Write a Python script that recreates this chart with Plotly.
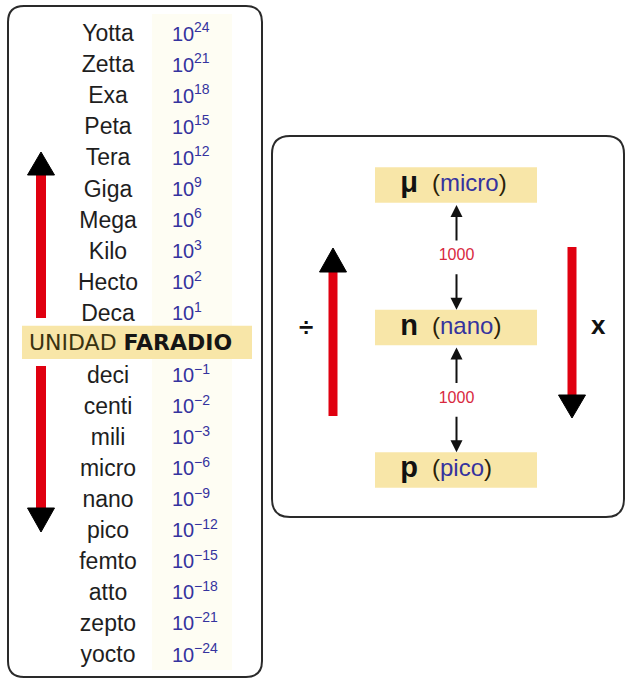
import plotly.graph_objects as go

# ---------------- data ----------------
upper_prefixes = ["Yotta", "Zetta", "Exa", "Peta", "Tera", "Giga", "Mega", "Kilo", "Hecto", "Deca"]
upper_exponents = [24, 21, 18, 15, 12, 9, 6, 3, 2, 1]
unit_word = "UNIDAD"
unit_name = "FARADIO"
lower_prefixes = ["deci", "centi", "mili", "micro", "nano", "pico", "femto", "atto", "zepto", "yocto"]
lower_exponents = [-1, -2, -3, -6, -9, -12, -15, -18, -21, -24]
power_base = "10"

scale_symbols = ["μ", "n", "p"]
scale_names = ["micro", "nano", "pico"]
scale_factors = ["1000", "1000"]

# ---------------- styles ----------------
FONT = "Liberation Sans, Arial, Helvetica, sans-serif"
BLUE = "#35339e"
RED = "#e00010"
YEL = "#f8e6a8"
BORDER = "#2a2a2a"

W, H = 627, 680
ROW0_PX, ROW_PX = 35.5, 31.05          # left table row geometry (pixels)
R0_PX, R_PX = 185.0, 142.5             # right diagram row geometry (pixels)
SUP_SHIFT = 0.22                        # superscript raise, in rows

n_up = len(upper_prefixes)
unit_row = n_up
up_rows = list(range(n_up))
low_rows = [unit_row + 1 + i for i in range(len(lower_prefixes))]
all_rows = up_rows + low_rows
all_names = upper_prefixes + lower_prefixes
all_exps = upper_exponents + lower_exponents

fig = go.Figure()

# left table: prefix names
fig.add_trace(go.Scatter(
    x=[108] * len(all_rows), y=all_rows, text=all_names,
    mode="text", textposition="middle center",
    textfont=dict(family=FONT, size=23, color="#1e1e1e"),
    xaxis="x", yaxis="y2", hoverinfo="skip"))
# left table: base 10
fig.add_trace(go.Scatter(
    x=[172] * len(all_rows), y=all_rows, text=[power_base] * len(all_rows),
    mode="text", textposition="middle right",
    textfont=dict(family=FONT, size=20, color=BLUE),
    xaxis="x", yaxis="y2", hoverinfo="skip"))
# left table: exponents (superscript position)
fig.add_trace(go.Scatter(
    x=[194] * len(all_rows), y=[r - SUP_SHIFT for r in all_rows],
    text=[str(e).replace("-", "\u2212") for e in all_exps],
    mode="text", textposition="middle right",
    textfont=dict(family=FONT, size=14, color=BLUE),
    xaxis="x", yaxis="y2", hoverinfo="skip"))

# right diagram rows
rr = list(range(len(scale_symbols)))
fig.add_trace(go.Scatter(
    x=[409] * len(rr), y=rr, text=["<b>" + s + "</b>" for s in scale_symbols],
    mode="text", textposition="middle center",
    textfont=dict(family=FONT, size=29, color="#111111"),
    xaxis="x", yaxis="y3", hoverinfo="skip"))
fig.add_trace(go.Scatter(
    x=[432] * len(rr), y=rr,
    text=["(<span style='color:%s'>%s</span>)" % (BLUE, nm) for nm in scale_names],
    mode="text", textposition="middle right",
    textfont=dict(family=FONT, size=24, color="#2a2208"),
    xaxis="x", yaxis="y3", hoverinfo="skip"))
fig.add_trace(go.Scatter(
    x=[456.5] * len(scale_factors), y=[i + 0.5 for i in range(len(scale_factors))],
    text=scale_factors, mode="text", textposition="middle center",
    textfont=dict(family=FONT, size=16, color="#d8283e"),
    xaxis="x", yaxis="y3", hoverinfo="skip"))

shapes = []


def rounded(x0, y0, x1, y1, r):
    return (f"M {x0+r},{y0} L {x1-r},{y0} Q {x1},{y0} {x1},{y0+r} L {x1},{y1-r} "
            f"Q {x1},{y1} {x1-r},{y1} L {x0+r},{y1} Q {x0},{y1} {x0},{y1-r} "
            f"L {x0},{y0+r} Q {x0},{y0} {x0+r},{y0} Z")


# boxes
shapes.append(dict(type="path", xref="x", yref="y", path=rounded(8, 6, 262, 677, 16),
                   line=dict(color=BORDER, width=2), fillcolor="white", layer="below"))
shapes.append(dict(type="path", xref="x", yref="y", path=rounded(272, 136, 624, 517, 18),
                   line=dict(color=BORDER, width=2), fillcolor="white", layer="below"))
# faint column tint
shapes.append(dict(type="rect", xref="x", yref="y", x0=152, x1=232, y0=14, y1=670,
                   fillcolor="#fefdf3", line=dict(width=0), layer="below"))
# unit band
shapes.append(dict(type="rect", xref="x", yref="y2", x0=22, x1=252,
                   y0=unit_row - 0.65, y1=unit_row + 0.42,
                   fillcolor=YEL, line=dict(width=0), layer="below"))
# right yellow boxes
for i in rr:
    shapes.append(dict(type="rect", xref="x", yref="y3", x0=375, x1=537,
                       y0=i - 0.125, y1=i + 0.125,
                       fillcolor=YEL, line=dict(width=0), layer="below"))


def red_arrow(xc, y_tail, y_base, y_tip, shaft_w=10, head_w=27):
    shapes.append(dict(type="rect", xref="x", yref="y", x0=xc - shaft_w / 2, x1=xc + shaft_w / 2,
                       y0=min(y_tail, y_base), y1=max(y_tail, y_base),
                       fillcolor=RED, line=dict(width=0)))
    shapes.append(dict(type="path", xref="x", yref="y",
                       path=f"M {xc-head_w/2},{y_base} L {xc+head_w/2},{y_base} L {xc},{y_tip} Z",
                       fillcolor="#000000", line=dict(color="#000000", width=1)))


red_arrow(41, 318, 175, 152)
red_arrow(41, 366, 508, 532)
red_arrow(333, 416, 272, 248, shaft_w=9)
red_arrow(572, 247, 395, 418, shaft_w=9)

annotations = [
    dict(x=27, y=unit_row - 0.1, xref="x", yref="y2", xanchor="left", yanchor="middle", showarrow=False,
         text="<span style='color:#3a3210'>" + unit_word + "</span> <b>" + unit_name + "</b>",
         font=dict(family="DejaVu Sans, Verdana, sans-serif", size=22, color="#151515")),
    dict(x=306, y=327, xref="x", yref="y", showarrow=False, text="<b>÷</b>",
         font=dict(family=FONT, size=26, color="#111111")),
    dict(x=598, y=325, xref="x", yref="y", showarrow=False, text="<b>x</b>",
         font=dict(family=FONT, size=26, color="#111111")),
]

# black double arrows between rows
for i in range(len(scale_factors)):
    annotations.append(dict(x=456.5, y=i + 0.14, ax=456.5, ay=i + 0.40, xref="x", yref="y3",
                            axref="x", ayref="y3", showarrow=True, arrowhead=2, arrowsize=1.2,
                            arrowwidth=2, arrowcolor="#111111", text=""))
    annotations.append(dict(x=456.5, y=i + 0.875, ax=456.5, ay=i + 0.615, xref="x", yref="y3",
                            axref="x", ayref="y3", showarrow=True, arrowhead=2, arrowsize=1.2,
                            arrowwidth=2, arrowcolor="#111111", text=""))

hidden = dict(visible=False, fixedrange=True)
fig.update_layout(
    width=W, height=H, margin=dict(l=0, r=0, t=0, b=0),
    paper_bgcolor="white", plot_bgcolor="white", showlegend=False,
    xaxis=dict(range=[0, W], **hidden),
    yaxis=dict(range=[H, 0], **hidden),
    yaxis2=dict(range=[(H - ROW0_PX) / ROW_PX, -ROW0_PX / ROW_PX], overlaying="y", **hidden),
    yaxis3=dict(range=[(H - R0_PX) / R_PX, -R0_PX / R_PX], overlaying="y", **hidden),
    shapes=shapes, annotations=annotations,
)

fig.write_html("out.html", config={"displayModeBar": False},
               post_script="document.body.style.margin='0';document.body.style.overflow='hidden';")
